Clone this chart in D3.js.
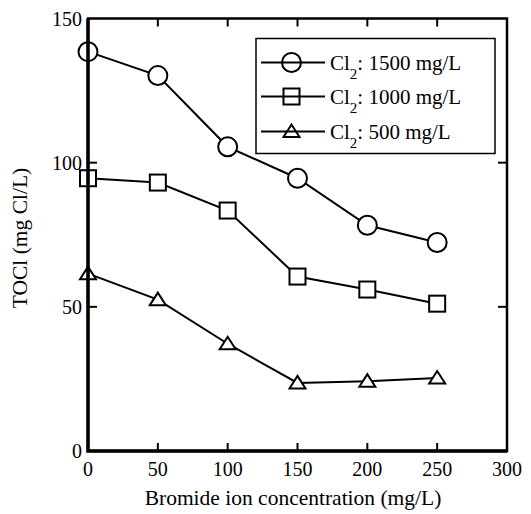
<!DOCTYPE html>
<html>
<head>
<meta charset="utf-8">
<script src="https://cdn.jsdelivr.net/npm/d3@7"></script>
<style>
  html, body { margin: 0; padding: 0; background: #fff; }
  svg { display: block; font-family: "Liberation Serif", "Times New Roman", serif; }
</style>
</head>
<body>
<svg id="chart" width="531" height="514"></svg>
<script>
/* TOCl vs bromide concentration, three chlorine doses */

var bromide = [0, 50, 100, 150, 200, 250];
var cl1500 = [138.5, 130.2, 105.5, 94.6, 78.3, 72.3];
var cl1000 = [94.6, 93.1, 83.4, 60.5, 56.0, 51.1];
var cl500 = [61.5, 52.5, 37.2, 23.6, 24.2, 25.3];
var xTicks = [0, 50, 100, 150, 200, 250, 300];
var yTicks = [0, 50, 100, 150];
var seriesNames = ["1500 mg/L", "1000 mg/L", "500 mg/L"];

var svg = d3.select("#chart");
var mLeft = 88, mRight = 507, mTop = 18.5, mBottom = 451;

var x = d3.scaleLinear().domain([0, 300]).range([mLeft, mRight]);
var y = d3.scaleLinear().domain([0, 150]).range([mBottom, mTop]);

var series = [
  { name: seriesNames[0], values: cl1500, shape: "circle" },
  { name: seriesNames[1], values: cl1000, shape: "square" },
  { name: seriesNames[2], values: cl500, shape: "triangle" }
];

function marker(g, shape, cx, cy, fill) {
  if (shape === "circle") {
    g.append("circle").attr("cx", cx).attr("cy", cy).attr("r", 9.5)
      .attr("fill", fill).attr("stroke", "#000").attr("stroke-width", 2);
  } else if (shape === "square") {
    g.append("rect").attr("x", cx - 8).attr("y", cy - 8).attr("width", 16).attr("height", 16)
      .attr("fill", fill).attr("stroke", "#000").attr("stroke-width", 2);
  } else {
    g.append("path")
      .attr("d", "M" + (cx - 8) + "," + (cy + 5.5) + "L" + cx + "," + (cy - 7) + "L" + (cx + 8) + "," + (cy + 5.5) + "Z")
      .attr("fill", fill).attr("stroke", "#000").attr("stroke-width", 2).attr("stroke-linejoin", "miter");
  }
}

// ticks, pointing inward on all four sides
var tk = svg.append("g").attr("stroke", "#000").attr("stroke-width", 2);
xTicks.slice(1, -1).forEach(function (t) {
  tk.append("line").attr("x1", x(t)).attr("x2", x(t)).attr("y1", mBottom).attr("y2", mBottom - 8);
  tk.append("line").attr("x1", x(t)).attr("x2", x(t)).attr("y1", mTop).attr("y2", mTop + 8);
});
yTicks.slice(1, -1).forEach(function (t) {
  tk.append("line").attr("x1", mLeft).attr("x2", mLeft + 9).attr("y1", y(t)).attr("y2", y(t));
  tk.append("line").attr("x1", mRight).attr("x2", mRight - 9).attr("y1", y(t)).attr("y2", y(t));
});

// lines + markers
var line = d3.line().x(function (d, i) { return x(bromide[i]); }).y(function (d) { return y(d); });
series.forEach(function (s) {
  svg.append("path").datum(s.values).attr("d", line)
    .attr("fill", "none").attr("stroke", "#000").attr("stroke-width", 2);
});
series.forEach(function (s) {
  var g = svg.append("g");
  s.values.forEach(function (v, i) { marker(g, s.shape, x(bromide[i]), y(v), "#fff"); });
});

// frame
svg.append("rect").attr("x", mLeft).attr("y", mTop).attr("width", mRight - mLeft).attr("height", mBottom - mTop)
  .attr("fill", "none").attr("stroke", "#000").attr("stroke-width", 2.5);
svg.append("path").attr("d", "M" + mLeft + "," + mTop + "V" + mBottom + "H" + mRight)
  .attr("fill", "none").attr("stroke", "#000").attr("stroke-width", 3.5);

// tick labels
svg.append("g").selectAll("text").data(xTicks).join("text")
  .attr("x", function (d) { return x(d); }).attr("y", 476)
  .attr("text-anchor", "middle").attr("font-size", 20).text(function (d) { return d; });
svg.append("g").selectAll("text").data(yTicks).join("text")
  .attr("x", 82).attr("y", function (d) { return y(d) + 7; })
  .attr("text-anchor", "end").attr("font-size", 20).text(function (d) { return d; });

// axis titles
svg.append("text").attr("x", 293).attr("y", 505).attr("text-anchor", "middle")
  .attr("font-size", 21.5).text("Bromide ion concentration (mg/L)");
svg.append("text").attr("transform", "translate(27,238) rotate(-90)").attr("text-anchor", "middle")
  .attr("font-size", 21.5).text("TOCl (mg Cl/L)");

// legend
var lg = svg.append("g");
lg.append("rect").attr("x", 256).attr("y", 38.5).attr("width", 239).attr("height", 115)
  .attr("fill", "#fff").attr("stroke", "#000").attr("stroke-width", 1.5);
var rowY = [62.5, 96.5, 131.5];
series.forEach(function (s, i) {
  var cy = rowY[i];
  marker(lg, s.shape, 291.5, cy, "none");
  lg.append("line").attr("x1", 261).attr("x2", 325).attr("y1", cy).attr("y2", cy)
    .attr("stroke", "#000").attr("stroke-width", 2);
  var t = lg.append("text").attr("x", 330).attr("y", cy + 7).attr("font-size", 21);
  t.append("tspan").text("Cl");
  t.append("tspan").attr("font-size", 15).attr("dy", 9).text("2");
  t.append("tspan").attr("dy", -9).text(": " + s.name);
});
</script>
</body>
</html>
